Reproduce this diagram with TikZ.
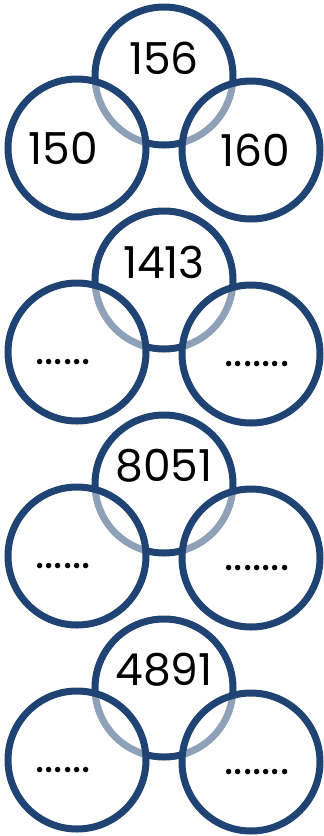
\documentclass[tikz,border=0pt]{standalone}
\usepackage{fontspec}
\setmainfont{Poppins}
\usetikzlibrary{positioning}
\definecolor{ringblue}{RGB}{31,67,115}

\begin{document}
\begin{tikzpicture}[
  x=1pt, y=-1pt,
  ring/.style={circle, draw=ringblue, line width=7pt, minimum size=138pt, inner sep=0pt},
  sidering/.style={ring, fill=white, fill opacity=0.5},
  num/.style={font=\fontsize{44}{44}\selectfont, inner sep=0pt},
  blank/.style={num, anchor=base},
]
\useasboundingbox (0,0) rectangle (324,836);
% ---- four groups: top ring with two side rings ----
\foreach \topnum [count=\i from 0] in {156, 1413, 8051, 4891} {
  \pgfmathsetmacro\yc{76+204*\i}
  \node[ring] (top\i) at (164,\yc) {};
  \node[sidering] (left\i) at (77,\yc+72) {};
  \node[sidering] (right\i) at (251,\yc+74) {};
  \node[num] (topnum\i) at ([yshift=18pt]top\i.center) {\topnum};
}
% ---- first group is filled in ----
\node[num] (leftnum0) at ([xshift=-14pt]left0.center) {150};
\node[num] (rightnum0) at ([xshift=4pt]right0.center) {160};
% ---- the rest are left blank ----
\foreach \i in {1,2,3} {
  \node[blank] (leftnum\i) at ([xshift=-14pt, yshift=-12pt]left\i.center) {......};
  \node[blank] (rightnum\i) at ([xshift=6pt, yshift=-12pt]right\i.center) {.......};
}
\end{tikzpicture}
\end{document}
